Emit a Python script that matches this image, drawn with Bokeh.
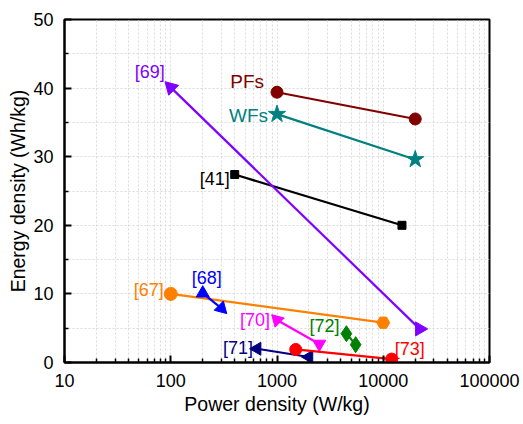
import math
from bokeh.plotting import figure
from bokeh.models import FixedTicker, ColumnDataSource
from bokeh.core.properties import value
from bokeh.embed import file_html
from bokeh.resources import INLINE

# ---------------- data ----------------
x_ticks = [10, 100, 1000, 10000, 100000]
x_tick_labels = ["10", "100", "1000", "10000", "100000"]
y_ticks = [0, 10, 20, 30, 40, 50]

pf_x = [1000, 20000]
pf_y = [39.4, 35.5]
wf_x = [1000, 20000]
wf_y = [36.2, 29.6]
r41_x = [400, 15000]
r41_y = [27.4, 20.0]
r69_x = [100, 22000]
r69_y = [40.1, 4.9]
r67_x = [100, 10000]
r67_y = [10.0, 5.8]
r68_x = [200, 300]
r68_y = [10.1, 7.9]
r70_x = [1000, 2500]
r70_y = [6.2, 2.7]
r71_x = [650, 2000]
r71_y = [2.0, 0.8]
r72_x = [4500, 5500]
r72_y = [4.2, 2.6]
r73_x = [1500, 12000]
r73_y = [1.9, 0.5]

FONT = "Liberation Sans"

p = figure(width=523, height=424, x_axis_type="log",
           x_range=(10, 100000), y_range=(0, 50),
           output_backend="svg", toolbar_location=None,
           min_border_left=64, min_border_right=34,
           min_border_top=19, min_border_bottom=62)
p.background_fill_color = "white"
p.border_fill_color = "white"
p.outline_line_color = "black"
p.outline_line_width = 2

minor_x = [d * k for d in [10, 100, 1000, 10000] for k in range(2, 10)]
p.xaxis.ticker = FixedTicker(ticks=x_ticks, minor_ticks=minor_x)
p.xaxis.major_label_overrides = {t: l for t, l in zip(x_ticks, x_tick_labels)}
p.yaxis.ticker = FixedTicker(ticks=y_ticks, minor_ticks=[5, 15, 25, 35, 45])

for ax in (p.xaxis, p.yaxis):
    ax.axis_line_width = 2
    ax.axis_line_color = "black"
    ax.major_tick_in = 7
    ax.major_tick_out = 0
    ax.minor_tick_in = 4
    ax.minor_tick_out = 0
    ax.major_tick_line_width = 2
    ax.minor_tick_line_width = 1.5
    ax.major_tick_line_color = "black"
    ax.minor_tick_line_color = "black"
    ax.major_label_text_font = FONT
    ax.major_label_text_font_size = "18px"
    ax.major_label_text_color = "black"
    ax.axis_label_text_font = FONT
    ax.axis_label_text_font_size = "19.5px"
    ax.axis_label_text_font_style = "normal"
    ax.axis_label_text_color = "black"

p.xaxis.axis_label = "Power density (W/kg)"
p.yaxis.axis_label = "Energy density (Wh/kg)"
p.xaxis.major_label_standoff = 11
p.yaxis.major_label_standoff = 11
p.xaxis.axis_label_standoff = 3
p.yaxis.axis_label_standoff = 1

for g in (p.xgrid, p.ygrid):
    g.grid_line_color = "#dadada"
    g.grid_line_dash = "2 2"
    g.grid_line_width = 1
    g.minor_grid_line_color = "#dadada"
    g.minor_grid_line_dash = "2 2"
    g.minor_grid_line_width = 1
p.xgrid.ticker = p.xaxis.ticker
p.ygrid.ticker = p.yaxis.ticker


def series(xs, ys, color, markers, angles, size, label, lx_idx, align, xo, yo, fsize="18px"):
    p.line(xs, ys, line_color=color, line_width=2.2)
    src = ColumnDataSource(dict(x=xs, y=ys, m=markers, a=angles))
    p.scatter("x", "y", source=src, marker="m", angle="a", size=size,
              fill_color=color, line_color=color)
    p.text([xs[lx_idx]], [ys[lx_idx]], text=[label], text_color=color,
           text_font=value(FONT), text_font_size=fsize, text_align=align,
           text_baseline="middle", x_offset=xo, y_offset=yo)


pi = math.pi
series(pf_x, pf_y, "#800000", ["circle", "circle"], [0, 0], 12, "PFs", 0, "right", -13, -11, "19px")
series(wf_x, wf_y, "#008080", ["star", "star"], [0, 0], 18, "WFs", 0, "right", -9, 1, "19px")
series(r41_x, r41_y, "black", ["square", "square"], [0, 0], 8, "[41]", 0, "right", -5, 4)
series(r69_x, r69_y, "#8000FF", ["triangle", "triangle"], [pi / 4, -pi / 2], 14, "[69]", 0, "right", -6, -15)
series(r67_x, r67_y, "#FF8000", ["circle", "hex"], [0, 0], 13, "[67]", 0, "right", -7, -4)
series(r68_x, r68_y, "#0000FF", ["triangle", "triangle"], [0, -3 * pi / 4], 13, "[68]", 0, "center", 4, -15)
series(r70_x, r70_y, "#FF00FF", ["triangle", "inverted_triangle"], [pi / 4, 0], 13, "[70]", 0, "right", -7, 0)
series(r71_x, r71_y, "#000080", ["triangle", "triangle"], [pi / 2, pi / 2], 13, "[71]", 0, "right", -4, -1)
series(r72_x, r72_y, "#008000", ["diamond", "diamond"], [0, 0], 16, "[72]", 0, "right", -7, -8)
series(r73_x, r73_y, "#FF0000", ["circle", "circle"], [0, 0], 12, "[73]", 1, "left", 3, -10)

open("out.html", "w").write(file_html(p, INLINE))
